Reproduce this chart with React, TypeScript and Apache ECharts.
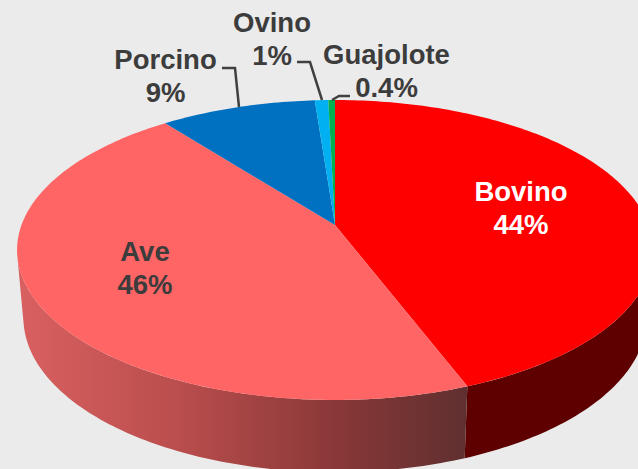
import React, { useEffect, useRef } from "react";
import * as echarts from "echarts";

const categories = ["Bovino", "Ave", "Porcino", "Ovino", "Guajolote"];
const values = [44.2, 45.3, 9.3, 0.8, 0.4];
const percentLabels = ["44%", "46%", "9%", "1%", "0.4%"];

const topColors = ["#ff0000", "#ff6565", "#0070c0", "#00b0f0", "#00b050"];
const labelColors = ["#ffffff", "#3c3c3c", "#3c3c3c", "#3c3c3c", "#3c3c3c"];

const WIDTH = 638;
const HEIGHT = 469;
const total = values.reduce((a, b) => a + b, 0);

// Perspective projection of the pie's circular top face
const CX = 335;
const CY = 225;
const K = 1 / 6;
const RX = 313.5;
const RY = 145.8;

function rimTop(theta: number): number[] {
  const u = Math.sin(theta);
  const v = Math.cos(theta);
  const w = 1 + K * v;
  return [CX + (RX * u) / w, CY - (RY * v) / w];
}

function rimBottom(theta: number): number[] {
  const p = rimTop(theta);
  return [CX + 0.98 * (p[0] - CX), 292 + 1.03 * (p[1] - CY)];
}

function arcPoints(fn: (t: number) => number[], a: number, b: number): number[][] {
  const n = Math.max(2, Math.ceil(((b - a) / (2 * Math.PI)) * 360));
  const pts: number[][] = [];
  for (let i = 0; i <= n; i++) pts.push(fn(a + ((b - a) * i) / n));
  return pts;
}

function sliceAngles(index: number): [number, number] {
  let before = 0;
  for (let i = 0; i < index; i++) before += values[i];
  const a = (before / total) * 2 * Math.PI;
  return [a, a + (values[index] / total) * 2 * Math.PI];
}

// Angles at which the side wall meets the silhouette of the solid
function silhouetteCross(t: number): number {
  const e = 0.001;
  const p0 = rimTop(t - e);
  const p1 = rimTop(t + e);
  const q = rimTop(t);
  const r = rimBottom(t);
  return (p1[0] - p0[0]) * (r[1] - q[1]) - (p1[1] - p0[1]) * (r[0] - q[0]);
}
function findSilhouette(lo: number, hi: number): number {
  const sLo = Math.sign(silhouetteCross(lo));
  for (let i = 0; i < 50; i++) {
    const mid = (lo + hi) / 2;
    if (Math.sign(silhouetteCross(mid)) === sLo) lo = mid;
    else hi = mid;
  }
  return (lo + hi) / 2;
}
const VISIBLE_START = findSilhouette(Math.PI * 0.25, Math.PI);
const VISIBLE_END = findSilhouette(Math.PI, Math.PI * 1.75);

const aveSide = () =>
  new echarts.graphic.LinearGradient(
    17, 0, 469, 0,
    [
      { offset: 0, color: "#d96060" },
      { offset: 0.35, color: "#bb4e4e" },
      { offset: 0.7, color: "#8a3838" },
      { offset: 1, color: "#5f2f2f" },
    ],
    true
  );
const sideFill = (i: number): any => {
  if (i === 0) return "#5e0000";
  if (i === 1) return aveSide();
  return topColors[i];
};

const labelPositions = [
  [521, 208],
  [145, 268],
  [165.5, 76],
  [272, 39],
  [386.5, 71],
];

const leaderLines = [
  [[222, 68], [235, 68], [239, 107]],
  [[297, 62], [310, 62], [322, 100]],
  [[350, 96], [339, 96], [332, 100]],
];

export default function App() {
  const ref = useRef<HTMLDivElement>(null);
  useEffect(() => {
    document.body.style.margin = "0";
    const chart = echarts.init(ref.current!, undefined, { renderer: "svg" });
    const data = values.map((v, i) => ({ name: categories[i], value: v }));
    chart.setOption({
      animation: false,
      backgroundColor: "#ebebeb",
      series: [
        {
          type: "custom",
          coordinateSystem: "none",
          silent: true,
          z: 1,
          data,
          renderItem: (params: any) => {
            const [a0, b0] = sliceAngles(params.dataIndex);
            const a = Math.max(a0, VISIBLE_START);
            const b = Math.min(b0, VISIBLE_END);
            if (b <= a) return null;
            const pts = [
              ...arcPoints(rimTop, a, b),
              ...arcPoints(rimBottom, a, b).reverse(),
            ];
            return { type: "polygon", shape: { points: pts }, style: { fill: sideFill(params.dataIndex) } };
          },
        },
        {
          type: "custom",
          coordinateSystem: "none",
          silent: true,
          z: 2,
          data,
          renderItem: (params: any) => {
            const [a, b] = sliceAngles(params.dataIndex);
            const pts = [[CX, CY], ...arcPoints(rimTop, a, b)];
            return { type: "polygon", shape: { points: pts }, style: { fill: topColors[params.dataIndex] } };
          },
        },
      ],
      graphic: [
        ...leaderLines.map((points) => ({
          type: "polyline",
          z: 5,
          silent: true,
          shape: { points },
          style: { stroke: "#404040", lineWidth: 2.5, fill: "none" },
        })),
        ...categories.map((name, i) => ({
          type: "text",
          z: 6,
          silent: true,
          x: labelPositions[i][0],
          y: labelPositions[i][1],
          style: {
            text: name + "\n" + percentLabels[i],
            fill: labelColors[i],
            font: 'bold 27.5px "Liberation Sans", Arial, sans-serif',
            lineHeight: 33,
            align: "center",
            verticalAlign: "middle",
          },
        })),
      ],
    });
    return () => chart.dispose();
  }, []);
  return <div ref={ref} style={{ width: WIDTH, height: HEIGHT }} />;
}
